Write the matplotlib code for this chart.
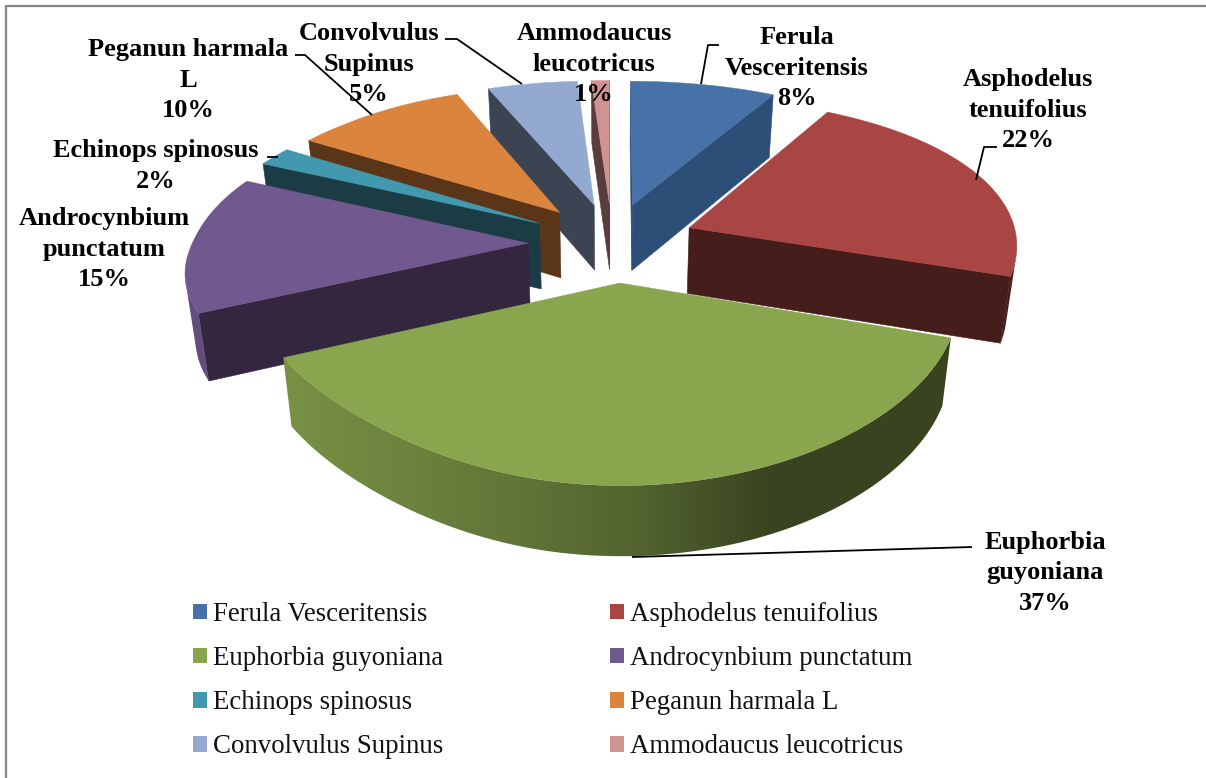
import numpy as np
import matplotlib
matplotlib.use("Agg")
import matplotlib.pyplot as plt
from matplotlib.patches import Patch, Polygon
from matplotlib.colors import to_rgb

plt.rcParams['font.family'] = ['Liberation Serif', 'DejaVu Serif']

names = ["Ferula Vesceritensis", "Asphodelus tenuifolius", "Euphorbia guyoniana",
         "Androcynbium punctatum", "Echinops spinosus", "Peganun harmala L",
         "Convolvulus Supinus", "Ammodaucus leucotricus"]
label_text = ["Ferula\nVesceritensis\n8%", "Asphodelus\ntenuifolius\n22%",
              "Euphorbia\nguyoniana\n37%", "Androcynbium\npunctatum\n15%",
              "Echinops spinosus\n2%", "Peganun harmala\nL\n10%",
              "Convolvulus\nSupinus\n5%", "Ammodaucus\nleucotricus\n1%"]
values = [8, 22, 37, 15, 2, 10, 5, 1]
top_colors = ["#4672A7", "#A94543", "#89A54E", "#71588F", "#4198AF", "#DB843D", "#93A9CF", "#D09392"]
face_colors = ["#2D4E76", "#451D1B", "#37431E", "#352640", "#1B3B45", "#5A3517", "#3C4353", "#5A3C3C"]
label_pos = [(797, 68), (1028, 110), (1045, 573), (104, 249), (156, 166), (188, 80), (369, 64), (594, 64)]
leaders = [[(701, 84), (708, 45), (719, 45)], [(976, 180), (984, 147), (997, 147)],
           [(632, 557), (972, 547)], [], [(278, 157), (267, 157)],
           [(372, 115), (305, 55), (295, 55)], [(522, 84), (457, 39), (445, 39)], []]

# projection parameters of the 3-D pie
CX, CY, RX, RY, PERSP, PERSP_X, DEPTH, EXPLODE, RADIUS = 612, 242, 335, 158, 0.165, 0.10, 66, 0.25, 0.98
SHADE_X = [285, 500, 640, 770]
SHADE_F = [0.88, 0.72, 0.60, 0.41]


def project(X, Y, lower=False):
    s = 1 / (1 + PERSP * Y)
    sx = 1 / (1 + PERSP_X * Y)
    # the left-hand part of the original's projection is skewed; smooth correction
    xl = min(max(-X, 0.0) ** 3, 0.7)
    yneg = 0.5 * (np.sqrt(Y * Y + 0.02) - Y)
    ypos = 0.5 * (np.sqrt(Y * Y + 0.02) + Y)
    dx = -RX * 0.02 * xl - 55 * xl * yneg + 20 * xl * ypos
    dy = -32 * xl * yneg
    px = CX + RX * X * sx + dx
    py = CY - RY * Y * s + dy
    if lower:
        px = CX + (px - CX) * 0.975
        py += DEPTH * s ** 0.3
    return px, py


def signed_area(p):
    p = np.array(p)
    x, y = p[:, 0], p[:, 1]
    return 0.5 * np.sum(x * np.roll(y, -1) - np.roll(x, -1) * y)


fig = plt.figure(figsize=(12.06, 7.78), dpi=100)
ax = fig.add_axes([0, 0, 1, 1])

fractions = np.array(values) / sum(values)
edges = np.concatenate([[0], np.cumsum(fractions)]) * 2 * np.pi
order = [0, 6, 7, 5, 4, 3, 1, 2]

z = 2.0
for i in order:
    a0, a1 = edges[i], edges[i + 1]
    mid = (a0 + a1) / 2
    ox, oy = EXPLODE * np.sin(mid), EXPLODE * np.cos(mid)
    th = np.linspace(a0, a1, max(8, int((a1 - a0) * 60)))
    ox_arc = ox + RADIUS * np.sin(th)
    oy_arc = oy + RADIUS * np.cos(th)
    tip_t = project(ox, oy)
    tip_b = project(ox, oy, True)
    top_arc = [project(x, y) for x, y in zip(ox_arc, oy_arc)]
    low_arc = [project(x, y, True) for x, y in zip(ox_arc, oy_arc)]
    # radial faces
    for poly in ([tip_t, top_arc[0], low_arc[0], tip_b], [tip_t, tip_b, low_arc[-1], top_arc[-1]]):
        if signed_area(poly) < 0:
            ax.add_patch(Polygon(poly, closed=True, fc=face_colors[i], ec=face_colors[i], lw=0.4, zorder=z))
    z += 0.01
    # outer wall: one smooth horizontal gradient clipped to the visible wall
    vis = [k for k in range(len(th) - 1)
           if signed_area([top_arc[k], top_arc[k + 1], low_arc[k + 1], low_arc[k]]) < 0]
    if vis:
        idx = list(range(vis[0], vis[-1] + 2))
        outline = [top_arc[k] for k in idx] + [low_arc[k] for k in idx[::-1]]
        wall = Polygon(outline, closed=True, fc='none', ec='none', transform=ax.transData)
        ax.add_patch(wall)
        xs = np.arange(0, 1206)
        f = np.interp(xs, SHADE_X, SHADE_F)
        rgb = np.outer(f, to_rgb(top_colors[i]))[None, :, :]
        im = ax.imshow(rgb, extent=(0, 1206, 778, 0), aspect='auto', zorder=z, interpolation='bilinear')
        im.set_clip_path(wall)
    z += 0.01
    ax.add_patch(Polygon([tip_t] + top_arc, closed=True, fc=top_colors[i], ec=top_colors[i], lw=0.3, zorder=z))
    z += 0.01

ax.set_xlim(0, 1206)
ax.set_ylim(778, 0)
ax.axis('off')

for pts in leaders:
    if pts:
        xs, ys = zip(*pts)
        ax.plot(xs, ys, color='black', lw=1.3, zorder=3, solid_capstyle='butt')

for txt, (x, y) in zip(label_text, label_pos):
    ax.text(x, y, txt, ha='center', va='center', fontsize=19, fontweight='bold',
            color='black', linespacing=1.43, zorder=4)

# frame
ax.plot([5.5, 5.5, 1206], [778, 5.5, 5.5], color='#868686', lw=1.6, zorder=1, solid_joinstyle='miter')

legend_order = [0, 2, 4, 6, 1, 3, 5, 7]
handles = [Patch(fc=top_colors[i], ec='none', label=names[i]) for i in legend_order]
ax.legend(handles=handles, ncol=2, frameon=False, fontsize=19.4,
          loc='upper left', bbox_to_anchor=(193 / 1206, 1 - 602 / 778), borderaxespad=0, borderpad=0,
          handlelength=0.52, handleheight=0.52, handletextpad=0.22, labelspacing=0.71,
          columnspacing=6.2, labelcolor='#111111')

fig.savefig('out.png', dpi=100)
